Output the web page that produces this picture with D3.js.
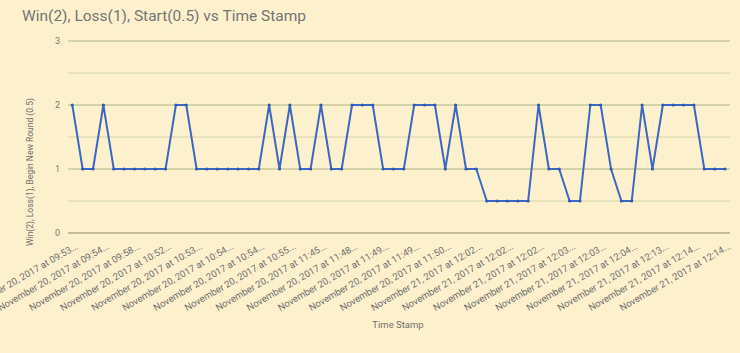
<!DOCTYPE html>
<html>
<head>
<meta charset="utf-8">
<script src="https://cdn.jsdelivr.net/npm/d3@7"></script>
<style>
  html, body { margin: 0; padding: 0; background: #fdf1cd; }
  svg { display: block; font-family: Roboto, "Noto Sans", sans-serif; }
</style>
</head>
<body>
<div id="chart"></div>
<script>
// Values: Win = 2, Loss = 1, Begin New Round = 0.5
const results = [
  2, 1, 1, 2, 1, 1, 1, 1, 1, 1,
  2, 2, 1, 1, 1, 1, 1, 1, 1, 2,
  1, 2, 1, 1, 2, 1, 1, 2, 2, 2,
  1, 1, 1, 2, 2, 2, 1, 2, 1, 1,
  0.5, 0.5, 0.5, 0.5, 0.5, 2, 1, 1, 0.5, 0.5,
  2, 2, 1, 0.5, 0.5, 2, 1, 2, 2, 2,
  2, 1, 1, 1
];

// Labels shown on every third category
const timeLabels = [
  'November 20, 2017 at 09:53...',
  'November 20, 2017 at 09:54...',
  'November 20, 2017 at 09:58...',
  'November 20, 2017 at 10:52...',
  'November 20, 2017 at 10:53...',
  'November 20, 2017 at 10:54...',
  'November 20, 2017 at 10:54...',
  'November 20, 2017 at 10:55...',
  'November 20, 2017 at 11:45...',
  'November 20, 2017 at 11:48...',
  'November 20, 2017 at 11:49...',
  'November 20, 2017 at 11:49...',
  'November 20, 2017 at 11:50...',
  'November 21, 2017 at 12:02...',
  'November 21, 2017 at 12:02...',
  'November 21, 2017 at 12:02...',
  'November 21, 2017 at 12:03...',
  'November 21, 2017 at 12:03...',
  'November 21, 2017 at 12:04...',
  'November 21, 2017 at 12:13...',
  'November 21, 2017 at 12:14...',
  'November 21, 2017 at 12:14...'
];

const yTicks = [0, 1, 2, 3];
const yGrid = [0.5, 1, 1.5, 2, 2.5, 3];

const width = 740;
const height = 353;

const svg = d3.select('#chart')
  .append('svg')
  .attr('width', width)
  .attr('height', height);

svg.append('rect')
  .attr('width', width)
  .attr('height', height)
  .attr('fill', '#fdf1cd');

const x = d3.scalePoint()
  .domain(d3.range(results.length))
  .range([72.3, 725]);

const y = d3.scaleLinear()
  .domain([0, 3])
  .range([233, 41]);

const gridLeft = 68;
const gridRight = 730;

// Gridlines
svg.append('g')
  .selectAll('line')
  .data(yGrid)
  .join('line')
  .attr('x1', gridLeft)
  .attr('x2', gridRight)
  .attr('y1', d => y(d))
  .attr('y2', d => y(d))
  .attr('stroke', d => Number.isInteger(d) ? '#adb582' : '#d2d5a6')
  .attr('stroke-width', 1);

// Baseline
svg.append('line')
  .attr('x1', gridLeft)
  .attr('x2', gridRight)
  .attr('y1', y(0))
  .attr('y2', y(0))
  .attr('stroke', '#8c876a')
  .attr('stroke-width', 1);

// Y axis labels
const yAxis = svg.append('g')
  .attr('transform', `translate(${gridLeft - 5},0)`)
  .call(d3.axisLeft(y).tickValues(yTicks).tickSize(0).tickFormat(d3.format('d')));
yAxis.select('.domain').remove();
yAxis.selectAll('text')
  .attr('font-size', 9)
  .attr('font-family', 'Roboto, sans-serif')
  .attr('fill', '#777');

// X axis labels
const xAxis = svg.append('g')
  .attr('transform', `translate(0,${y(0)})`)
  .call(d3.axisBottom(x)
    .tickValues(d3.range(0, results.length, 3))
    .tickSize(0)
    .tickFormat((d, i) => timeLabels[i]));
xAxis.select('.domain').remove();
xAxis.selectAll('text')
  .attr('font-size', 9.5)
  .attr('font-family', 'Roboto, sans-serif')
  .attr('fill', '#6f6f6f')
  .attr('text-anchor', 'end')
  .attr('dy', null)
  .attr('y', 0)
  .attr('transform', 'translate(6,15) rotate(-30)');

// Line
const line = d3.line()
  .x((d, i) => x(i))
  .y(d => y(d));

svg.append('path')
  .datum(results)
  .attr('fill', 'none')
  .attr('stroke', '#3c68c4')
  .attr('stroke-width', 2)
  .attr('stroke-linejoin', 'round')
  .attr('d', line);

svg.append('g')
  .selectAll('circle')
  .data(results)
  .join('circle')
  .attr('cx', (d, i) => x(i))
  .attr('cy', d => y(d))
  .attr('r', 1.6)
  .attr('fill', '#2f5ab5');

// Title
svg.append('text')
  .attr('x', 22)
  .attr('y', 21)
  .attr('font-size', 15.5)
  .attr('fill', '#757575')
  .text('Win(2), Loss(1), Start(0.5) vs Time Stamp');

// Axis titles
svg.append('text')
  .attr('transform', 'translate(33,172) rotate(-90)')
  .attr('text-anchor', 'middle')
  .attr('font-size', 8.5)
  .attr('fill', '#6f6f6f')
  .text('Win(2), Loss(1), Begin New Round (0.5)');

svg.append('text')
  .attr('x', 398)
  .attr('y', 328)
  .attr('text-anchor', 'middle')
  .attr('font-size', 9.5)
  .attr('fill', '#6f6f6f')
  .text('Time Stamp');
</script>
</body>
</html>
